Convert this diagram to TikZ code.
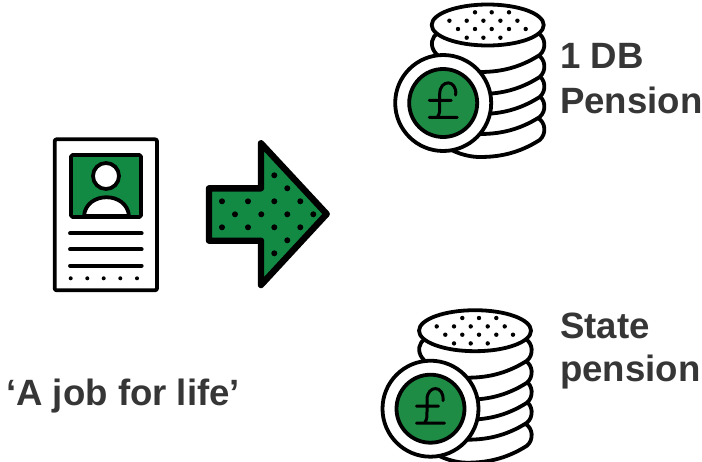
\documentclass[tikz,border=0pt]{standalone}
\usepackage{fontspec}
\setmainfont{Liberation Sans}
\definecolor{grn}{HTML}{128A43}
\definecolor{coingrn}{HTML}{1F8C45}
\definecolor{txt}{HTML}{363636}
\tikzset{
  ol/.style={line width=3.8pt,line join=round,line cap=round,draw=black},
  lbl/.style={font=\fontsize{36.6}{43}\selectfont\bfseries,text=txt,anchor=base west,inner sep=0pt},
  dotm/.style={fill=black,draw=none},
  pics/coinstack/.style={code={
    \foreach \d in {85,62,42,22,0}{
      \draw[ol,fill=white] (52,30+\d)
        .. controls (30,44+\d) and (10,47+\d) .. (-8,47+\d)
        .. controls (-25,47+\d) and (-45,38+\d) .. (-53,27+\d)
        .. controls (-58,20+\d) and (-56,12+\d) .. (-50,8+\d)
        -- (50,8+\d)
        .. controls (58,12+\d) and (59,24+\d) .. (52,30+\d) -- cycle;
    }
    \draw[ol,fill=white] (0,0) ellipse[x radius=56,y radius=20.5];
    \foreach \x/\y in {-12.7/-12.7,4/-12.7,21.3/-12.7,-38.3/-4.3,-21/-4.3,-4.3/-4.3,12.7/-4.3,29.7/-4.3,-29.7/4,-12.7/4,4/4,21.3/4,38/4,-21/12.7,-4.3/12.7,12.7/12.7}
      \fill[dotm] (\x,\y) circle[radius=2.2];
    \begin{scope}[shift={(-44.5,78)}]
      \draw[ol,fill=white] (0,0) circle[radius=48];
      \draw[ol,fill=coingrn] (0,0) circle[radius=34];
      \draw[line width=3pt,line cap=round,line join=round]
        (-14,14.4) -- (14,14.4)
        (-14,-2.7) -- (8,-2.7)
        (-6,14.4) .. controls (-3,10) and (-3.5,7) .. (-3.5,3) -- (-3.5,-9)
        .. controls (-3.5,-24) and (14,-24) .. (12.5,-8);
    \end{scope}
  }}
}
\begin{document}
\begin{tikzpicture}[x=1pt,y=-1pt]
\useasboundingbox (0,0) rectangle (702,461);
\fill[white] (0,0) rectangle (702,461);

% document card
\draw[ol,fill=white,rounded corners=2pt] (54.7,139.3) rectangle (157,290.3);
\draw[ol,fill=grn,rounded corners=1.5pt] (71,155) rectangle (141,217);
\draw[ol,fill=white] (84,216) .. controls (86,191) and (127,191) .. (129,216) -- cycle;
\draw[ol,fill=white] (106,176) circle[radius=13];
\foreach \yy in {233.3,249.3,265.7}{\draw[line width=3.8pt,line cap=round] (70,\yy) -- (141.7,\yy);}
\foreach \xx in {70.7,87.3,103.7,120.3,137}{\fill[dotm] (\xx,278.3) circle[radius=2];}

% arrow
\draw[line width=6.4pt,line join=round,fill=grn]
  (209,188.3) -- (261,188.3) -- (261,143.3) -- (326.7,214) -- (261,285) -- (261,240.7) -- (209,240.7) -- cycle;
\foreach \x/\y in {274.3/175.3,287.3/188.3,222/201.3,248/201.3,274.3/201.3,300.3/201.3,235/214.3,261.3/214.3,287.3/214.3,313.3/214.3,222/227.3,248/227.3,274.3/227.3,300.3/227.3,287.3/240.3,274.3/253.3}
  \fill[dotm] (\x,\y) circle[radius=3];

\pic at (487.7,25) {coinstack};
\pic at (475,330.7) {coinstack};

\node[lbl] (a) at (560,68.5) {1 DB};
\node[lbl] (b) at (560,113.3) {Pension};
\node[lbl] (c) at (560,338) {State};
\node[lbl] (d) at (560,381.5) {pension};
\node[lbl] (e) at (6,405.5) {‘A job for life’};
\end{tikzpicture}
\end{document}
